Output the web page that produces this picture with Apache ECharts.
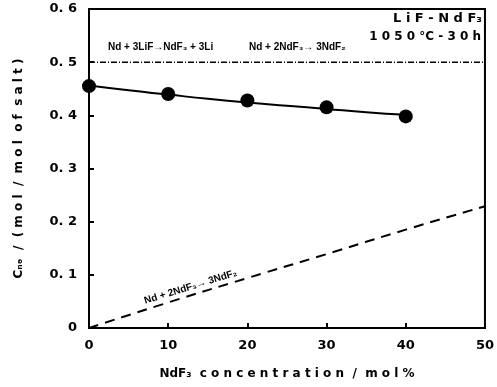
<!DOCTYPE html>
<html>
<head>
<meta charset="utf-8">
<script src="https://cdn.jsdelivr.net/npm/echarts@6/dist/echarts.min.js"></script>
<style>
  html, body { margin: 0; padding: 0; background: #fff; }
  #chart { width: 497px; height: 387px; }
</style>
</head>
<body>
<div id="chart"></div>
<script>
// measured points (NdF3 mol%, C_Nd)
const ndf3Conc = [0, 10, 20, 30, 40];
const cNd = [0.455, 0.44, 0.428, 0.415, 0.398];

// fitted curve drawn through the points
const fitX = [0, 5, 10, 15, 20, 25, 30, 35, 40];
const fitY = [0.456, 0.447, 0.439, 0.431, 0.424, 0.418, 0.412, 0.406, 0.401];

// Nd + 2NdF3 -> 3NdF2 limit (dashed)
const dashX = [0, 10, 20, 30, 40, 50];
const dashY = [0, 0.048, 0.094, 0.139, 0.185, 0.229];

// Nd + 3LiF limit (dash-dot)
const limitX = [0, 50];
const limitY = [0.5, 0.5];

const xTicks = [0, 10, 20, 30, 40, 50];
const yTicks = ['0', '0. 1', '0. 2', '0. 3', '0. 4', '0. 5', '0. 6'];

const pairs = (xs, ys) => xs.map((x, i) => [x, ys[i]]);
const font = 'DejaVu Sans';

const chart = echarts.init(document.getElementById('chart'));
chart.setOption({
  animation: false,
  backgroundColor: '#fff',
  grid: { left: 89, right: 8, top: 9, bottom: 59, show: true, borderColor: '#000', borderWidth: 2 },
  xAxis: {
    type: 'value', min: 0, max: 50, interval: 10,
    name: 'NdF\u2083  c o n c e n t r a t i o n  /  m o l %',
    nameLocation: 'middle', nameGap: 40,
    nameTextStyle: { color: '#000', fontFamily: font, fontSize: 12, fontWeight: 'bold' },
    axisLine: { lineStyle: { color: '#000', width: 2 } },
    axisTick: { inside: true, length: 5, lineStyle: { color: '#000', width: 2 } },
    splitLine: { show: false },
    axisLabel: {
      color: '#000', fontFamily: font, fontSize: 13, fontWeight: 'bold', margin: 11,
      formatter: v => String(xTicks[xTicks.indexOf(v)])
    }
  },
  yAxis: {
    type: 'value', min: 0, max: 0.6, interval: 0.1,
    name: 'C\u2099\u2094  /  ( m o l  /  m o l  o f  s a l t )',
    nameLocation: 'middle', nameGap: 64, nameRotate: 90,
    nameTextStyle: { color: '#000', fontFamily: font, fontSize: 12, fontWeight: 'bold' },
    axisLine: { lineStyle: { color: '#000', width: 2 } },
    axisTick: { inside: true, length: 5, lineStyle: { color: '#000', width: 2 } },
    splitLine: { show: false },
    axisLabel: {
      color: '#000', fontFamily: font, fontSize: 13, fontWeight: 'bold', margin: 12,
      formatter: v => yTicks[Math.round(v * 10)]
    }
  },
  series: [
    {
      type: 'line', data: pairs(fitX, fitY), smooth: true, symbol: 'none',
      lineStyle: { color: '#000', width: 2 }
    },
    {
      type: 'scatter', data: pairs(ndf3Conc, cNd), symbolSize: 14,
      itemStyle: { color: '#000', opacity: 1 }
    },
    {
      type: 'line', data: pairs(dashX, dashY), smooth: true, symbol: 'none',
      lineStyle: { color: '#000', width: 2, type: [10, 7] }
    },
    {
      type: 'line', data: pairs(limitX, limitY), symbol: 'none',
      lineStyle: { color: '#000', width: 1.5, type: [6, 2, 1, 2] }
    }
  ],
  graphic: [
    { type: 'text', right: 15, top: 12,
      style: { text: 'L i F - N d F\u2083', fill: '#000', font: 'bold 13px DejaVu Sans' } },
    { type: 'text', right: 16, top: 31,
      style: { text: '1 0 5 0 \u00b0C - 3 0 h', fill: '#000', font: 'bold 12px DejaVu Sans' } },
    { type: 'text', left: 108, top: 42,
      style: { text: 'Nd + 3LiF\u2192NdF\u2083 + 3Li', fill: '#000', font: 'bold 10px Liberation Sans Narrow, Liberation Sans' } },
    { type: 'text', left: 249, top: 42,
      style: { text: 'Nd + 2NdF\u2083\u2192 3NdF\u2082', fill: '#000', font: 'bold 10px Liberation Sans Narrow, Liberation Sans' } },
    { type: 'text', x: 146, y: 306, rotation: 0.3,
      style: { text: 'Nd + 2NdF\u2083\u2192 3NdF\u2082', fill: '#000', font: 'bold 10px Liberation Sans Narrow, Liberation Sans', textVerticalAlign: 'bottom' } }
  ]
});
</script>
</body>
</html>
